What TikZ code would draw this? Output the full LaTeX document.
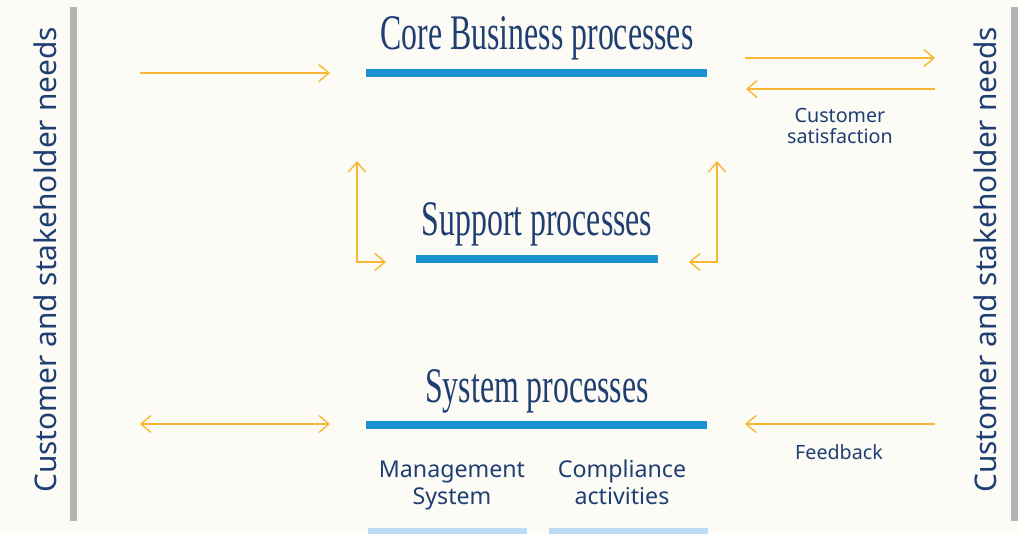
\documentclass[tikz,border=0pt]{standalone}
\usepackage{fontspec}
\setmainfont{Noto Sans}
\newfontfamily\headfont[FakeStretch=0.64]{Liberation Serif}
\usepackage{xcolor}
\usetikzlibrary{arrows.meta, positioning}

\definecolor{paper}{HTML}{FCFBF6}
\definecolor{navy}{HTML}{1F3F73}
\definecolor{barblue}{HTML}{1A91D1}
\definecolor{paleblue}{HTML}{BCDCF3}
\definecolor{rail}{HTML}{B3B3B3}
\definecolor{amber}{HTML}{F8B733}

\begin{document}
\begin{tikzpicture}[
    x=0.02cm, y=-0.02cm,
    heading/.style={font=\headfont\fontsize{28.3}{30}\selectfont, text=navy, anchor=base, inner sep=0pt},
    note/.style={font=\fontsize{11.2}{11.5}\selectfont, text=navy, align=center, inner sep=0pt},
    subnote/.style={note, font=\fontsize{13.2}{15.3}\selectfont},
    side/.style={font=\fontsize{17}{20}\selectfont, text=navy, rotate=90, anchor=base, inner sep=0pt},
    flow/.style={draw=amber, line width=0.8pt, -{Straight Barb[length=2mm, width=3.4mm]}},
    twoway/.style={flow, {Straight Barb[length=2mm, width=3.4mm]}-{Straight Barb[length=2mm, width=3.4mm]}}
]
    % Page and side rails
    \fill[paper] (0,0) rectangle (1018,534);
    \useasboundingbox (0,0) rectangle (1018,534);
    \fill[rail] (70,7) rectangle (77,521);
    \fill[rail] (1011,7) rectangle (1018,521);
    \node[side] (needsL) at (56,260) {Customer and stakeholder needs};
    \node[side] (needsR) at (996,260) {Customer and stakeholder needs};

    % Core business processes
    \node[heading] (core) at (537,50) {Core Business processes};
    \fill[barblue] (366,69) rectangle (707,77);
    \coordinate (coreInL) at (140,73);
    \coordinate (coreInR) at (330,73);
    \coordinate (outA) at (745,58);
    \coordinate (outB) at (935,58);
    \coordinate (backA) at (935,89);
    \coordinate (backB) at (746,89);
    \draw[flow] (coreInL) -- (coreInR);
    \draw[flow] (outA) -- (outB);
    \draw[flow] (backA) -- (backB);
    \node[note, anchor=base] (satisf) at (840,143) {Customer\\satisfaction};

    % Support processes
    \node[heading] (support) at (537,235) {Support processes};
    \fill[barblue] (416,255) rectangle (658,263);
    \coordinate (supLtop) at (357,161);
    \coordinate (supLend) at (386,262);
    \coordinate (supRtop) at (717,161);
    \coordinate (supRend) at (689,262);
    \draw[twoway] (supLtop) |- (supLend);
    \draw[twoway] (supRtop) |- (supRend);

    % System processes
    \node[heading] (system) at (537,402) {System processes};
    \fill[barblue] (366,421) rectangle (707,429);
    \coordinate (sysL) at (140,424);
    \coordinate (sysR) at (330,424);
    \coordinate (fbA) at (935,424);
    \coordinate (fbB) at (745,424);
    \draw[twoway] (sysL) -- (sysR);
    \draw[flow] (fbA) -- (fbB);
    \node[note, anchor=base] (feedback) at (839,459) {Feedback};

    \node[subnote, anchor=base] (mgmt) at (452,504) {Management\\System};
    \node[subnote, anchor=base] (compl) at (622,504) {Compliance\\activities};
    \fill[paleblue] (368,528) rectangle (527,534);
    \fill[paleblue] (549,528) rectangle (708,534);
\end{tikzpicture}
\end{document}
